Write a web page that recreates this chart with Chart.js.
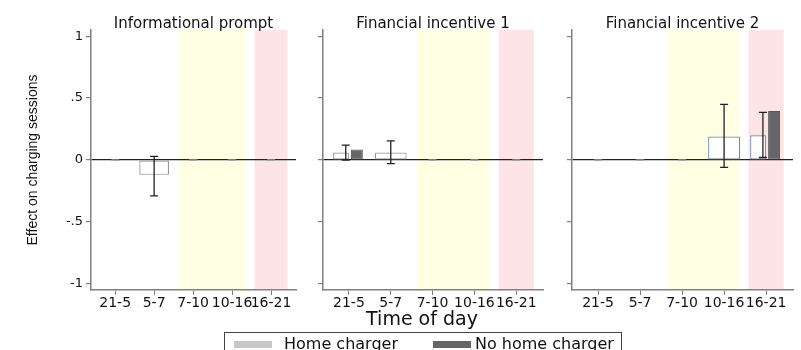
<!DOCTYPE html>
<html>
<head>
<meta charset="utf-8">
<script src="https://cdn.jsdelivr.net/npm/chart.js@4.4.1/dist/chart.umd.min.js"></script>
<style>
  body { margin: 0; background: #fff; }
  #wrap { position: relative; width: 801px; height: 350px; overflow: hidden; font-family: 'DejaVu Sans', sans-serif; color: #111; }
  #wrap canvas { position: absolute; top: 0; }
  #c1 { left: 0; }
  #c2 { left: 300px; }
  #c3 { left: 550px; }
  #xtitle { position: absolute; left: 322px; width: 200px; top: 307px; text-align: center; font-size: 19px; line-height: 22px; }
  #legend { position: absolute; left: 224px; top: 332px; width: 398px; height: 30px; border: 1px solid #444; box-sizing: border-box; }
  .key { position: absolute; top: 8px; width: 38px; height: 7px; }
  .lab { position: absolute; top: 2px; font-size: 16px; line-height: 18px; }
</style>
</head>
<body>
<div id="wrap">
  <canvas id="c1" width="300" height="330"></canvas>
  <canvas id="c2" width="250" height="330"></canvas>
  <canvas id="c3" width="251" height="330"></canvas>
  <div id="xtitle">Time of day</div>
  <div id="legend">
    <div class="key" style="left:9px;background:#c8c8c8"></div>
    <div class="lab" style="left:59px">Home charger</div>
    <div class="key" style="left:208px;background:#666"></div>
    <div class="lab" style="left:250px">No home charger</div>
  </div>
</div>
<script>
// categories and tick labels
const timeBins = ['21-5', '5-7', '7-10', '10-16', '16-21'];
const panelTitles = ['Informational prompt', 'Financial incentive 1', 'Financial incentive 2'];
const yTicks = [-1, -0.5, 0, 0.5, 1];
const yTickLabels = ['-1', '-.5', '0', '.5', '1'];

// effect estimates, home charger group
const homeInfo = [0, -0.12, 0, 0, 0];
const homeFin1 = [0.06, 0.06, 0, 0, 0];
const homeFin2 = [0, 0, 0, 0.19, 0.20];

// effect estimates, no home charger group (null = not shown)
const noHomeInfo = [null, null, null, null, null];
const noHomeFin1 = [0.085, null, null, null, null];
const noHomeFin2 = [null, null, null, null, 0.395];

// confidence intervals for the home charger bars
const ciLowInfo = [null, -0.29, null, null, null];
const ciHighInfo = [null, 0.03, null, null, null];
const ciLowFin1 = [0.0, -0.03, null, null, null];
const ciHighFin1 = [0.12, 0.155, null, null, null];
const ciLowFin2 = [null, null, null, -0.06, 0.02];
const ciHighFin2 = [null, null, null, 0.45, 0.385];

// shaded time windows, in time-bin units
const dayBand = [1.65, 3.35];
const peakBand = [3.58, 4.42];

const toPoints = arr => arr.map((v, i) => ({ x: i, y: v }));

// shaded windows behind everything
const bandsPlugin = {
    id: 'bands',
    beforeDraw(chart) {
        const { ctx, chartArea } = chart;
        const xs = chart.scales.x;
        const fill = (band, color) => {
            const x0 = xs.getPixelForValue(band[0]);
            const x1 = xs.getPixelForValue(band[1]);
            ctx.fillStyle = color;
            ctx.fillRect(x0, chartArea.top, x1 - x0, chartArea.bottom - chartArea.top);
        };
        ctx.save();
        fill(dayBand, '#fefee3');
        fill(peakBand, '#fde4e6');
        ctx.restore();
    }
};

// capped error bars for the home charger bars, plus a dash for zero estimates
const errorBarsPlugin = {
    id: 'errorBars',
    afterDatasetsDraw(chart, args, opts) {
        const { ctx } = chart;
        const ys = chart.scales.y;
        const meta = chart.getDatasetMeta(0);
        const home = chart.data.datasets[0].data;
        const other = chart.data.datasets[1].data;
        ctx.save();
        // zero estimates
        ctx.strokeStyle = '#9a9a9a';
        ctx.lineWidth = 1.5;
        home.forEach((p, i) => {
            if (p.y !== 0) return;
            const el = meta.data[i];
            ctx.beginPath();
            ctx.moveTo(el.x - 4, el.y); ctx.lineTo(el.x + 4, el.y);
            ctx.stroke();
        });
        ctx.strokeStyle = '#222';
        ctx.lineWidth = 1.3;
        opts.low.forEach((lo, i) => {
            const hi = opts.high[i];
            if (lo === null || hi === null) return;
            const el = meta.data[i];
            let x = el.x;
            if (other[i].y !== null) x += el.width * 0.3;
            const y0 = ys.getPixelForValue(lo);
            const y1 = ys.getPixelForValue(hi);
            ctx.beginPath();
            ctx.moveTo(x, y0); ctx.lineTo(x, y1);
            ctx.moveTo(x - 4, y0); ctx.lineTo(x + 4, y0);
            ctx.moveTo(x - 4, y1); ctx.lineTo(x + 4, y1);
            ctx.stroke();
        });
        ctx.restore();
    }
};

function makePanel(canvasId, title, home, noHome, ciLow, ciHigh, opts) {
    return new Chart(document.getElementById(canvasId), {
        type: 'bar',
        data: {
            datasets: [{
                label: 'Home charger',
                data: toPoints(home),
                backgroundColor: '#ffffff',
                borderColor: opts.outline,
                borderWidth: 1.2,
                borderSkipped: false,
                barPercentage: 1.0,
                categoryPercentage: 0.76
            }, {
                label: 'No home charger',
                data: toPoints(noHome),
                backgroundColor: '#666666',
                borderColor: '#555555',
                borderWidth: 1,
                borderSkipped: false,
                barPercentage: 0.75,
                categoryPercentage: 0.76
            }]
        },
        options: {
            responsive: false,
            animation: false,
            devicePixelRatio: 1,
            skipNull: true,
            layout: { padding: { left: 0, right: opts.padRight, top: 0, bottom: 0 } },
            plugins: {
                legend: { display: false },
                tooltip: { enabled: false },
                title: {
                    display: true,
                    text: title,
                    fullSize: false,
                    color: '#111',
                    font: { family: 'DejaVu Sans', size: 15, weight: 'normal', lineHeight: 0.8 },
                    padding: { top: 18, bottom: 0 }
                },
                errorBars: { low: ciLow, high: ciHigh }
            },
            scales: {
                x: {
                    type: 'linear',
                    min: -0.62,
                    max: 4.64,
                    bounds: 'data',
                    offset: false,
                    afterBuildTicks: s => { s.ticks = timeBins.map((_, i) => ({ value: i })); },
                    afterFit: s => { s.height = 40; },
                    ticks: {
                        callback: v => timeBins[v],
                        autoSkip: false,
                        maxRotation: 0,
                        padding: 0,
                        color: '#111',
                        font: { family: 'DejaVu Sans', size: 14 }
                    },
                    grid: { offset: false, drawOnChartArea: false, tickColor: '#808080', tickLength: 5 },
                    border: { color: '#808080', width: 1.5 }
                },
                y: {
                    min: -1.05,
                    max: 1.05,
                    bounds: 'data',
                    afterBuildTicks: s => { s.ticks = yTicks.map(v => ({ value: v })); },
                    afterFit: s => { s.width = opts.yWidth; },
                    ticks: {
                        display: opts.showLabels,
                        callback: v => yTickLabels[yTicks.indexOf(v)],
                        padding: 3,
                        color: '#111',
                        font: { family: 'DejaVu Sans', size: 13 }
                    },
                    grid: {
                        color: c => (c.tick && c.tick.value === 0) ? '#222' : 'rgba(0,0,0,0)',
                        tickColor: '#808080',
                        tickLength: 5,
                        lineWidth: 1.2
                    },
                    border: { color: '#808080', width: 1.5 },
                    title: {
                        display: opts.showLabels,
                        text: 'Effect on charging sessions',
                        color: '#111',
                        font: { family: 'Liberation Sans', size: 14 },
                        padding: { top: 25, bottom: 0 }
                    }
                }
            }
        },
        plugins: [bandsPlugin, errorBarsPlugin]
    });
}

makePanel('c1', panelTitles[0], homeInfo, noHomeInfo, ciLowInfo, ciHighInfo,
    { outline: '#8a8a8a', padRight: 4, yWidth: 91, showLabels: true });
makePanel('c2', panelTitles[1], homeFin1, noHomeFin1, ciLowFin1, ciHighFin1,
    { outline: '#999999', padRight: 7, yWidth: 23, showLabels: false });
makePanel('c3', panelTitles[2], homeFin2, noHomeFin2, ciLowFin2, ciHighFin2,
    { outline: '#6f8fb0', padRight: 8, yWidth: 22, showLabels: false });
</script>
</body>
</html>
